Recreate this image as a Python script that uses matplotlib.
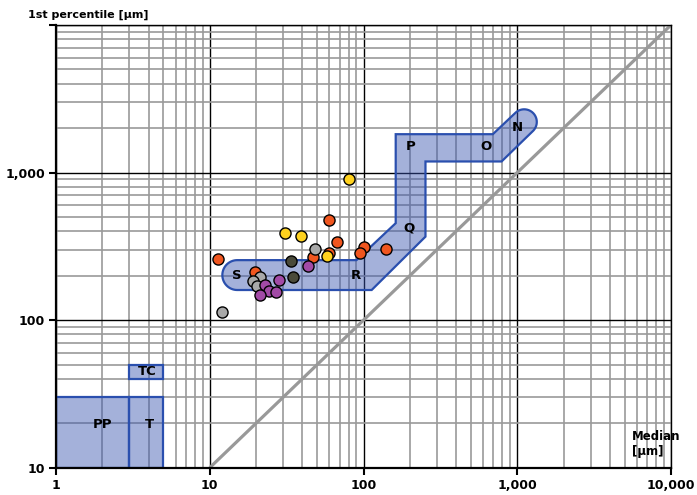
import numpy as np
import matplotlib
matplotlib.use("Agg")
import matplotlib.pyplot as plt
from matplotlib.patches import Polygon, Rectangle
from matplotlib.ticker import FixedLocator, NullFormatter

# ---- data (median, 1st percentile) ----
orange_x = [60, 67, 60, 100, 95, 141, 47, 11.3, 19.7]
orange_y = [480, 339, 287, 312, 284, 302, 267, 261, 211]
yellow_x = [81, 31, 39, 57.5]
yellow_y = [900, 388, 374, 270]
gray_x = [48.5, 21.3, 19, 20.2, 12]
gray_y = [304, 197, 185, 171, 114]
dark_x = [34, 35]
dark_y = [253, 195]
purple_x = [43.5, 28, 23, 24.4, 26.8, 21.3]
purple_y = [234, 187, 173, 158, 154, 149]

x_ticks = [1, 10, 100, 1000, 10000]
x_ticklabels = ["1", "10", "100", "1,000", "10,000"]
y_ticks = [10, 100, 1000, 10000]
y_ticklabels = ["10", "100", "1,000", ""]

# zone corners (median, 1st percentile)
band_corners_a = [(90, 255), (162, 454), (162, 1820), (694, 1820)]
band_corners_b = [(791, 1189), (253, 1189), (253, 368), (113, 160)]
s_cap = (15.1, 202)      # centre of the rounded S end
n_cap = (1109, 2203)     # centre of the rounded N end
boxes = {"PP": (1, 3, 10, 30), "T": (3, 5, 10, 30), "TC": (3, 5, 40, 50)}
zone_labels = ["S", "R", "Q", "P", "O", "N", "PP", "T", "TC"]
zone_label_x = [15.0, 89, 197, 203, 625, 994, 2.02, 4.03, 3.9]
zone_label_y = [202, 202, 422, 1494, 1494, 2010, 19.5, 19.5, 45]

fig = plt.figure(figsize=(6.97, 4.95), dpi=100)
ax = fig.add_axes([56/697, 1-467.7/495, (671-56)/697, (467.7-25)/495])
ax.set_xscale("log")
ax.set_yscale("log")
ax.set_xlim(1, 10000)
ax.set_ylim(10, 10000)

# grid
ax.xaxis.set_minor_locator(FixedLocator([m*10**e for e in range(0, 4) for m in range(2, 10)]))
ax.yaxis.set_minor_locator(FixedLocator([m*10**e for e in range(1, 4) for m in range(2, 10)]))
ax.xaxis.set_minor_formatter(NullFormatter())
ax.yaxis.set_minor_formatter(NullFormatter())
ax.grid(True, which="minor", color="#9a9a9a", lw=1.2, zorder=0)
ax.grid(True, which="major", color="black", lw=1.0, zorder=0.5)
ax.set_axisbelow(True)
ax.tick_params(which="minor", length=0)

ax.set_xticks(x_ticks)
ax.set_xticklabels(x_ticklabels, fontsize=9, fontweight="bold")
ax.set_yticks(y_ticks)
ax.set_yticklabels(y_ticklabels, fontsize=9, fontweight="bold")
ax.tick_params(which="major", length=5, width=1.5, color="black", pad=3)
for s in ["left", "bottom"]:
    ax.spines[s].set_linewidth(1.6)
for s in ["top", "right"]:
    ax.spines[s].set_linewidth(1.0)

face = (0.227, 0.333, 0.69, 0.46)
edge = "#2a4fae"

# band polygon built in log space
kx = 147.5/153.8
def arc(c, r, a0, a1, n=40):
    t = np.radians(np.linspace(a0, a1, n))
    cx, cy = np.log10(c[0]), np.log10(c[1])
    return list(zip(10**(cx + r*kx*np.cos(t)), 10**(cy + r*np.sin(t))))

r_s = np.log10(255/160)/2
r_n = 0.0856
verts = arc(s_cap, r_s, 270, 90) + band_corners_a + arc(n_cap, r_n, 135, -45) + band_corners_b
ax.add_patch(Polygon(verts, closed=True, facecolor=face, edgecolor=edge, lw=1.6, zorder=2))

for name, (x0, x1, y0, y1) in boxes.items():
    ax.add_patch(Rectangle((x0, y0), x1-x0, y1-y0, facecolor=face, edgecolor=edge, lw=1.6, zorder=2))

# diagonal
ax.plot([10, 10000], [10, 10000], color="#999999", lw=2.3, zorder=2.5, solid_capstyle="butt")

for lab, lx, ly in zip(zone_labels, zone_label_x, zone_label_y):
    ax.text(lx, ly, lab, ha="center", va="center", fontsize=9.5, fontweight="bold", zorder=5)

ms = 64
kw = dict(s=ms, edgecolors="black", linewidths=1.0, zorder=4)
ax.scatter(orange_x, orange_y, c="#f0561f", **kw)
ax.scatter(yellow_x, yellow_y, c="#ffd21f", **kw)
ax.scatter(gray_x, gray_y, c="#a8a8a8", **kw)
ax.scatter(dark_x, dark_y, c="#4a4a3a", **kw)
ax.scatter(purple_x, purple_y, c="#a24aa6", **kw)

fig.text(28/697, 1-15/495, "1st percentile [\u00b5m]", ha="left", va="center",
         fontsize=8, fontweight="bold")
fig.text(632/697, 1-444/495, "Median\n[\u00b5m]", ha="left", va="center",
         fontsize=8.5, fontweight="bold", linespacing=1.2)

fig.savefig("out.png", dpi=100)
